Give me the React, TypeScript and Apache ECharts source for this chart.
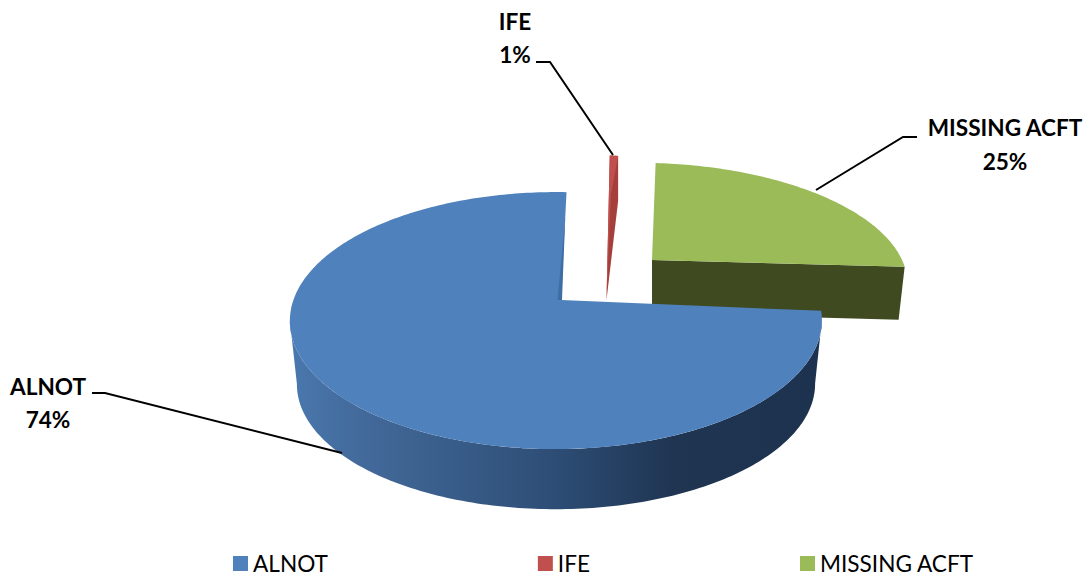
import React, { useEffect, useRef } from "react";
import * as echarts from "echarts";

const categories = ["ALNOT", "IFE", "MISSING ACFT"];
const values = [74, 1, 25];
const colors = ["#4f81bd", "#c0504d", "#9bbb59"];
const drawOrder = [2, 1, 0];

const FONT = "Lato";
const FONT_SIZE = 22.6;
const START_DEG = 95;
const A = 262.5, B = 125.2, P = 0.16, Q = 0.019;
const WALL_FROM = 99, WALL_TO = 261;

const layouts = [
  { ax: 561, ay: 300, sx: 1, sy: 1, shear: 0, tilt: 0, drop: 64, shrink: 0.974 },
  { ax: 606.5, ay: 300, sx: 0.59, sy: 1.34, shear: 0, tilt: 0, drop: 45, shrink: 1 },
  { ax: 652, ay: 260, sx: 0.965, sy: 0.9, shear: 18.6, tilt: -3, drop: 53, shrink: 0.976 },
];
const labelLayouts = [
  { x: 48, y1: 386, y2: 419, line: [[92, 393], [105, 393], [342, 453]] },
  { x: 515, y1: 21, y2: 54, line: [[536, 62], [550, 62], [613, 155]] },
  { x: 1005, y1: 127, y2: 161, line: [[917, 137], [903, 137], [816, 190]] },
];

const total = values.reduce((s, v) => s + v, 0);

function project(l: any, deg: number): number[] {
  const r = (deg * Math.PI) / 180;
  const X = Math.sin(r);
  const Y = -Math.cos(r);
  const w = 1 - P * Y + Q * X;
  return [l.ax + (l.sx * (A * X + l.shear * Y)) / w, l.ay + (l.sy * B * Y + l.tilt * X) / w];
}
function lower(l: any, p: number[]): number[] {
  return [l.ax + (p[0] - l.ax) * l.shrink, l.ay + l.drop + (p[1] - l.ay) * l.shrink];
}
function lerp(a: number[], b: number[], t: number): number[] {
  return [a[0] + (b[0] - a[0]) * t, a[1] + (b[1] - a[1]) * t];
}
function rim(l: any, from: number, to: number): number[][] {
  const pts: number[][] = [];
  const n = Math.max(2, Math.ceil(Math.abs(to - from)));
  for (let i = 0; i <= n; i++) pts.push(project(l, from + ((to - from) * i) / n));
  return pts;
}

const sideGradient = {
  type: "linear", global: true, x: 290, y: 0, x2: 822, y2: 0,
  colorStops: [
    { offset: 0, color: "#4a78ae" },
    { offset: 0.12, color: "#436b9c" },
    { offset: 0.5, color: "#2d4d75" },
    { offset: 0.72, color: "#1f3552" },
    { offset: 1, color: "#1c324e" },
  ],
};

function makeRender(index: number) {
  return (_params: any, api: any) => {
    const value = api.value(0);
    let before = 0;
    for (let i = 0; i < index; i++) before += values[i];
    const from = START_DEG + (before / total) * 360;
    const to = from + (value / total) * 360;
    const l = layouts[index];
    const apex = [l.ax, l.ay];
    const color = colors[index];
    const children: any[] = [];
    const top = rim(l, from, to);
    const endPt = top[top.length - 1];
    const poly = (points: number[][], fill: any) => ({
      type: "polygon", shape: { points }, style: { fill }, silent: true,
    });

    if (index === 0) {
      const wall = rim(l, WALL_FROM, WALL_TO);
      const bottom = wall.map((p) => lower(l, p)).reverse();
      children.push(poly([...wall, ...bottom], sideGradient));
      children.push(poly([apex, ...top], color));
      const a = lerp(endPt, apex, 0.23);
      children.push(poly([a, [l.ax + 1, l.ay], [l.ax - 3.5, l.ay]], "#3f6ea5"));
    } else if (index === 1) {
      children.push(poly([apex, ...top, [endPt[0], endPt[1] + 45]], "#a53f3c"));
      const mid = lerp(endPt, apex, 0.28);
      children.push(poly([apex, ...top, [mid[0] - 4, mid[1] - 2]], color));
    } else {
      children.push(poly([apex, endPt, lower(l, endPt), lower(l, apex)], "#3f4a20"));
      children.push(poly([apex, ...top], color));
    }

    const lab = labelLayouts[index];
    children.push({
      type: "polyline", shape: { points: lab.line }, silent: true, z2: 20,
      style: { stroke: "#000", lineWidth: 2, fill: null },
    });
    const textStyle = (text: string, y: number) => ({
      type: "text", x: lab.x, y, silent: true, z2: 21,
      style: { text, fill: "#000", font: `bold ${FONT_SIZE}px ${FONT}`, textAlign: "center", textVerticalAlign: "middle" },
    });
    children.push(textStyle(categories[index], lab.y1));
    children.push(textStyle(`${Math.round((value / total) * 100)}%`, lab.y2));
    return { type: "group", children };
  };
}

export default function App() {
  const ref = useRef<HTMLDivElement>(null);
  useEffect(() => {
    const chart = echarts.init(ref.current!, undefined, { renderer: "svg" });
    chart.setOption({
      animation: false,
      backgroundColor: "#fff",
      legend: {
        left: 233, top: 552, padding: 0, icon: "rect", itemWidth: 15, itemHeight: 15, itemGap: 210,
        data: categories, selectedMode: false,
        textStyle: { color: "#000", fontFamily: FONT, fontSize: FONT_SIZE, lineHeight: 23 },
      },
      series: categories.map((name, i) => ({
        type: "custom", name, coordinateSystem: "none", silent: true,
        z: 2 + drawOrder.indexOf(i),
        itemStyle: { color: colors[i] },
        renderItem: makeRender(i),
        data: [[values[i]]],
      })),
    });
    return () => chart.dispose();
  }, []);
  return <div ref={ref} style={{ position: "absolute", left: 0, top: 0, width: 1090, height: 577 }} />;
}
